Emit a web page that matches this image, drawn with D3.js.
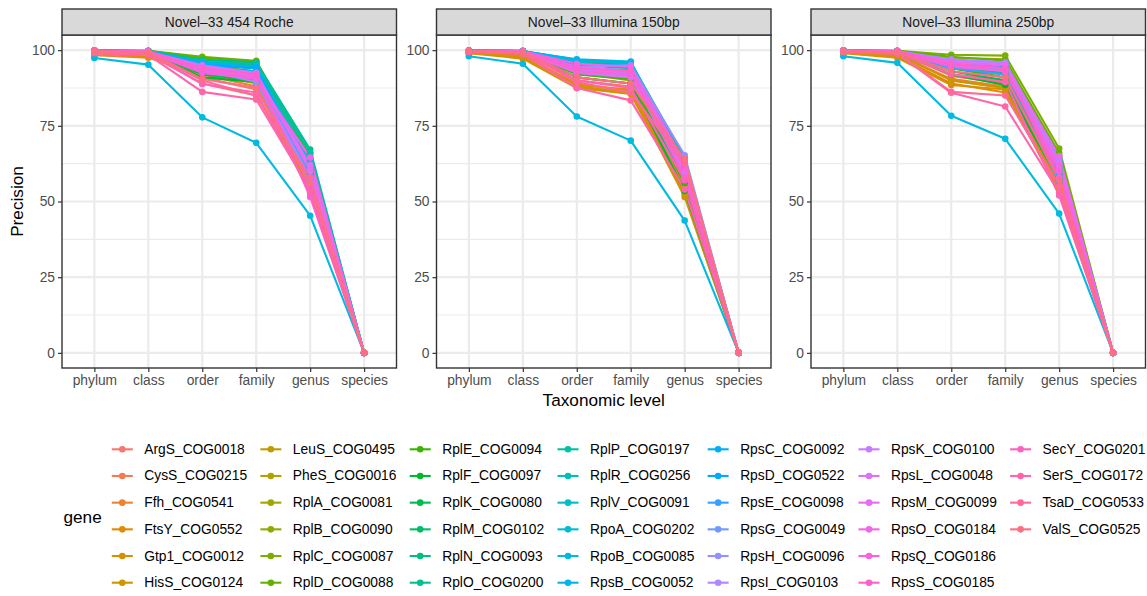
<!DOCTYPE html>
<html>
<head>
<meta charset="utf-8">
<script src="https://cdn.jsdelivr.net/npm/d3@7"></script>
<style>
  html, body { margin: 0; padding: 0; background: #fff; }
  svg text { font-family: "Liberation Sans", Arial, sans-serif; }
</style>
</head>
<body>
<svg id="chart" width="1147" height="596"></svg>
<script>
// Taxonomic levels along the x axis
const levels = ["phylum", "class", "order", "family", "genus", "species"];
const yTicks = [0, 25, 50, 75, 100];
const panelTitles = ["Novel\u201333 454 Roche", "Novel\u201333 Illumina 150bp", "Novel\u201333 Illumina 250bp"];

const genes = [
  "ArgS_COG0018", "CysS_COG0215", "Ffh_COG0541", "FtsY_COG0552", "Gtp1_COG0012", "HisS_COG0124",
  "LeuS_COG0495", "PheS_COG0016", "RplA_COG0081", "RplB_COG0090", "RplC_COG0087", "RplD_COG0088",
  "RplE_COG0094", "RplF_COG0097", "RplK_COG0080", "RplM_COG0102", "RplN_COG0093", "RplO_COG0200",
  "RplP_COG0197", "RplR_COG0256", "RplV_COG0091", "RpoA_COG0202", "RpoB_COG0085", "RpsB_COG0052",
  "RpsC_COG0092", "RpsD_COG0522", "RpsE_COG0098", "RpsG_COG0049", "RpsH_COG0096", "RpsI_COG0103",
  "RpsK_COG0100", "RpsL_COG0048", "RpsM_COG0099", "RpsO_COG0184", "RpsQ_COG0186", "RpsS_COG0185",
  "SecY_COG0201", "SerS_COG0172", "TsaD_COG0533", "ValS_COG0525"
];

// Precision (%) per gene: phylum, class, order, family, genus, species
const roche454 = [
  [99.5, 98.5, 89.0, 85.0, 55.0, 0], [99.7, 99.2, 91.0, 87.0, 57.0, 0], [98.3, 97.5, 92.0, 88.0, 56.0, 0],
  [99.0, 97.8, 93.0, 90.0, 53.0, 0], [99.5, 98.8, 94.0, 91.0, 54.0, 0], [99.6, 99.3, 92.5, 89.0, 52.5, 0],
  [99.8, 99.5, 95.0, 93.0, 58.0, 0], [99.7, 99.4, 96.0, 94.0, 60.0, 0], [99.8, 99.6, 96.5, 95.0, 62.0, 0],
  [99.9, 99.7, 97.0, 95.5, 63.0, 0], [99.9, 99.8, 97.8, 96.5, 64.0, 0], [99.9, 99.7, 97.5, 96.2, 65.0, 0],
  [99.8, 99.5, 95.5, 94.0, 61.0, 0], [99.6, 99.2, 91.0, 89.5, 59.0, 0], [99.7, 99.4, 92.0, 90.0, 60.0, 0],
  [99.8, 99.5, 94.5, 93.0, 63.0, 0], [99.9, 99.7, 96.0, 95.0, 66.0, 0], [99.9, 99.8, 96.8, 96.0, 67.2, 0],
  [99.8, 99.6, 96.0, 95.5, 66.0, 0], [99.7, 99.5, 95.0, 94.0, 64.0, 0], [99.8, 99.6, 95.5, 94.5, 62.0, 0],
  [99.6, 99.3, 94.0, 93.0, 63.0, 0], [97.4, 95.2, 77.8, 69.4, 45.3, 0], [99.7, 99.5, 96.0, 94.5, 59.5, 0],
  [99.8, 99.6, 95.5, 94.3, 61.0, 0], [99.7, 99.4, 95.0, 94.0, 60.0, 0], [99.6, 99.2, 94.0, 92.5, 58.0, 0],
  [99.5, 99.0, 93.0, 91.0, 57.0, 0], [99.6, 99.2, 93.5, 89.5, 56.0, 0], [99.7, 99.4, 94.0, 90.5, 58.0, 0],
  [99.8, 99.5, 95.0, 92.5, 60.0, 0], [99.7, 99.4, 94.5, 92.0, 62.0, 0], [99.8, 99.5, 93.5, 91.5, 61.0, 0],
  [99.6, 99.3, 92.5, 90.5, 64.5, 0], [99.7, 99.4, 93.0, 91.0, 55.0, 0], [99.8, 99.6, 94.0, 92.0, 51.5, 0],
  [99.5, 99.0, 88.8, 86.0, 53.0, 0], [99.0, 98.4, 86.2, 83.7, 54.0, 0], [99.3, 98.8, 90.0, 85.0, 58.0, 0],
  [99.6, 99.2, 90.5, 87.5, 56.0, 0]
];

const illumina150 = [
  [99.5, 99.0, 88.0, 86.0, 56.0, 0], [99.6, 99.3, 90.0, 88.0, 57.0, 0], [99.0, 98.0, 89.0, 86.5, 55.0, 0],
  [99.2, 97.5, 88.5, 87.0, 53.0, 0], [99.0, 97.2, 87.5, 85.5, 52.5, 0], [99.3, 98.3, 88.0, 86.0, 51.5, 0],
  [99.6, 99.2, 91.0, 89.0, 54.0, 0], [99.7, 99.4, 92.5, 90.0, 57.0, 0], [99.8, 99.6, 94.0, 92.0, 59.0, 0],
  [99.8, 99.6, 94.5, 93.0, 60.0, 0], [99.8, 99.7, 95.0, 94.0, 61.0, 0], [99.7, 99.5, 93.5, 92.0, 58.0, 0],
  [99.6, 99.3, 92.0, 90.5, 56.0, 0], [99.7, 99.4, 91.0, 89.0, 53.5, 0], [99.8, 99.5, 93.0, 91.5, 57.0, 0],
  [99.8, 99.6, 94.0, 93.0, 60.0, 0], [99.9, 99.7, 95.5, 95.5, 63.0, 0], [99.9, 99.8, 96.0, 96.0, 64.0, 0],
  [99.9, 99.7, 96.5, 95.8, 64.5, 0], [99.8, 99.6, 95.0, 94.5, 62.0, 0], [99.9, 99.7, 96.8, 95.5, 63.0, 0],
  [99.8, 99.6, 96.0, 94.0, 61.0, 0], [98.0, 95.5, 78.1, 70.1, 43.7, 0], [99.8, 99.6, 97.0, 96.2, 62.0, 0],
  [99.8, 99.5, 95.5, 95.0, 60.0, 0], [99.7, 99.5, 95.0, 94.5, 59.0, 0], [99.7, 99.4, 94.0, 93.5, 61.5, 0],
  [99.6, 99.3, 93.5, 92.5, 60.0, 0], [99.7, 99.4, 94.5, 95.0, 65.3, 0], [99.6, 99.2, 93.0, 91.5, 58.0, 0],
  [99.7, 99.4, 93.5, 92.5, 59.0, 0], [99.6, 99.3, 92.5, 91.0, 60.0, 0], [99.7, 99.5, 94.5, 93.0, 62.0, 0],
  [99.8, 99.6, 95.5, 94.5, 63.0, 0], [99.7, 99.4, 93.0, 92.0, 61.0, 0], [99.8, 99.6, 94.0, 93.0, 58.0, 0],
  [99.5, 99.0, 90.0, 87.5, 57.0, 0], [99.3, 98.8, 87.5, 83.4, 54.0, 0], [99.6, 99.2, 89.5, 86.0, 62.5, 0],
  [99.7, 99.4, 91.0, 89.0, 64.0, 0]
];

const illumina250 = [
  [99.6, 99.2, 90.0, 87.5, 55.0, 0], [99.7, 99.4, 91.5, 89.0, 57.0, 0], [99.2, 98.5, 90.5, 88.0, 56.0, 0],
  [99.3, 98.0, 89.0, 86.0, 54.0, 0], [99.0, 97.5, 88.5, 87.0, 53.0, 0], [99.4, 98.5, 90.0, 87.5, 55.0, 0],
  [99.6, 99.2, 92.0, 90.0, 57.0, 0], [99.7, 99.4, 94.0, 92.0, 59.0, 0], [99.8, 99.6, 96.0, 94.5, 62.0, 0],
  [99.9, 99.8, 97.5, 97.0, 65.0, 0], [99.9, 99.8, 98.5, 98.2, 67.5, 0], [99.9, 99.7, 97.8, 96.5, 66.0, 0],
  [99.7, 99.5, 94.0, 91.0, 60.0, 0], [99.6, 99.3, 92.0, 88.5, 57.0, 0], [99.7, 99.4, 93.0, 90.0, 58.0, 0],
  [99.8, 99.5, 94.5, 92.5, 60.0, 0], [99.8, 99.6, 95.0, 93.5, 61.0, 0], [99.9, 99.7, 95.5, 94.0, 63.0, 0],
  [99.8, 99.6, 95.0, 93.5, 62.0, 0], [99.8, 99.6, 96.0, 94.5, 61.0, 0], [99.9, 99.7, 96.5, 95.0, 63.0, 0],
  [99.8, 99.6, 96.0, 95.5, 64.0, 0], [98.0, 95.8, 78.3, 70.7, 46.0, 0], [99.8, 99.6, 96.5, 96.0, 60.0, 0],
  [99.8, 99.5, 95.5, 95.0, 58.0, 0], [99.8, 99.5, 95.0, 94.5, 59.0, 0], [99.7, 99.4, 94.0, 92.0, 56.5, 0],
  [99.7, 99.4, 95.0, 93.5, 60.0, 0], [99.8, 99.5, 96.0, 95.0, 62.0, 0], [99.8, 99.6, 97.0, 96.0, 64.0, 0],
  [99.8, 99.6, 96.5, 95.5, 63.0, 0], [99.7, 99.5, 95.5, 94.0, 61.0, 0], [99.8, 99.6, 96.0, 95.0, 65.0, 0],
  [99.7, 99.4, 94.5, 93.0, 62.0, 0], [99.7, 99.5, 95.0, 93.0, 60.0, 0], [99.8, 99.6, 95.5, 94.0, 58.0, 0],
  [99.6, 99.2, 92.0, 89.5, 52.0, 0], [99.3, 98.8, 85.9, 81.4, 53.0, 0], [99.5, 99.0, 86.2, 85.0, 55.0, 0],
  [99.6, 99.3, 93.0, 91.0, 57.0, 0]
];

const panelData = [roche454, illumina150, illumina250];

// Polar LUV (hcl) -> sRGB hex, D65 white point
function hclLuv(h, c, l) {
  const Xn = 95.047, Yn = 100.0, Zn = 108.883;
  const den = Xn + 15 * Yn + 3 * Zn;
  const un = 4 * Xn / den, vn = 9 * Yn / den;
  const hr = h * Math.PI / 180;
  const U = c * Math.cos(hr), V = c * Math.sin(hr);
  const Y = Yn * (l > 8 ? Math.pow((l + 16) / 116, 3) : l / 903.3);
  const up = U / (13 * l) + un, vp = V / (13 * l) + vn;
  const X = 9 * Y * up / (4 * vp);
  const Z = -X / 3 - 5 * Y + 3 * Y / vp;
  const x = X / 100, y = Y / 100, z = Z / 100;
  const lin = [
    3.240479 * x - 1.537150 * y - 0.498535 * z,
    -0.969256 * x + 1.875992 * y + 0.041556 * z,
    0.055648 * x - 0.204043 * y + 1.057311 * z
  ];
  const g = v => {
    v = v <= 0.0031308 ? 12.92 * v : 1.055 * Math.pow(v, 1 / 2.4) - 0.055;
    return Math.round(255 * Math.max(0, Math.min(1, v)));
  };
  return d3.rgb(g(lin[0]), g(lin[1]), g(lin[2])).formatHex();
}
const palette = genes.map((_, i) => hclLuv(15 + 360 * i / genes.length, 100, 65));
const color = d3.scaleOrdinal().domain(genes).range(palette);

const svg = d3.select("#chart");
const FS = 13.8;

// Panel geometry
const panelLeft = [62, 436.5, 811];
const panelW = 334.5;
const stripTop = 9, stripH = 26;
const pTop = stripTop + stripH, pBottom = 368;

const y = d3.scaleLinear().domain([-5, 105]).range([pBottom, pTop]);
const grid = "#EBEBEB", dark = "#333333", tickText = "#4D4D4D";

panelData.forEach((rows, p) => {
  const x0 = panelLeft[p];
  const x = d3.scalePoint().domain(levels).range([x0, x0 + panelW]).padding(0.6);
  const g = svg.append("g");

  g.append("rect").attr("x", x0).attr("y", pTop).attr("width", panelW).attr("height", pBottom - pTop)
    .attr("fill", "#fff");

  // minor grid
  const minor = d3.range(12.5, 100, 25);
  g.selectAll(".ymin").data(minor).join("line")
    .attr("x1", x0).attr("x2", x0 + panelW)
    .attr("y1", d => y(d)).attr("y2", d => y(d))
    .attr("stroke", grid).attr("stroke-width", 1.1);
  // major grid
  g.selectAll(".ymaj").data(yTicks).join("line")
    .attr("x1", x0).attr("x2", x0 + panelW)
    .attr("y1", d => y(d)).attr("y2", d => y(d))
    .attr("stroke", grid).attr("stroke-width", 2.2);
  g.selectAll(".xmaj").data(levels).join("line")
    .attr("x1", d => x(d)).attr("x2", d => x(d))
    .attr("y1", pTop).attr("y2", pBottom)
    .attr("stroke", grid).attr("stroke-width", 2.2);

  // series
  const line = d3.line().x((d, i) => x(levels[i])).y(d => y(d));
  const series = rows.map((vals, i) => ({ gene: genes[i], vals }));
  const sg = g.append("g");
  series.forEach(s => {
    sg.append("path").attr("d", line(s.vals)).attr("fill", "none")
      .attr("stroke", color(s.gene)).attr("stroke-width", 2.1).attr("stroke-linejoin", "round");
  });
  series.forEach(s => {
    sg.selectAll(null).data(s.vals).join("circle")
      .attr("cx", (d, i) => x(levels[i])).attr("cy", d => y(d)).attr("r", 3.3)
      .attr("fill", color(s.gene));
  });

  // panel border
  g.append("rect").attr("x", x0).attr("y", pTop).attr("width", panelW).attr("height", pBottom - pTop)
    .attr("fill", "none").attr("stroke", dark).attr("stroke-width", 1.4);

  // strip
  g.append("rect").attr("x", x0).attr("y", stripTop).attr("width", panelW).attr("height", stripH)
    .attr("fill", "#D9D9D9").attr("stroke", dark).attr("stroke-width", 1.4);
  g.append("text").attr("x", x0 + panelW / 2).attr("y", stripTop + stripH / 2)
    .attr("text-anchor", "middle").attr("dominant-baseline", "central")
    .attr("font-size", FS).attr("fill", "#1A1A1A").text(panelTitles[p]);

  // x axis
  const xa = g.append("g").attr("transform", `translate(0,${pBottom})`)
    .call(d3.axisBottom(x).tickSize(4).tickPadding(3));
  xa.select(".domain").remove();
  xa.selectAll("line").attr("stroke", dark).attr("stroke-width", 1.2);
  xa.selectAll("text").attr("font-size", FS).attr("fill", tickText)
    .attr("font-family", "Liberation Sans, Arial, sans-serif");

  // y axis
  const ya = g.append("g").attr("transform", `translate(${x0},0)`)
    .call(d3.axisLeft(y).tickValues(yTicks).tickSize(4).tickPadding(3));
  ya.select(".domain").remove();
  ya.selectAll("line").attr("stroke", dark).attr("stroke-width", 1.2);
  ya.selectAll("text").attr("font-size", FS).attr("fill", tickText)
    .attr("font-family", "Liberation Sans, Arial, sans-serif");
});

// axis titles
svg.append("text").attr("transform", `translate(17,${(pTop + pBottom) / 2}) rotate(-90)`)
  .attr("text-anchor", "middle").attr("dominant-baseline", "central")
  .attr("font-size", 17.2).attr("fill", "#000").text("Precision");
svg.append("text").attr("x", (panelLeft[0] + panelLeft[2] + panelW) / 2).attr("y", 400)
  .attr("text-anchor", "middle").attr("dominant-baseline", "central")
  .attr("font-size", 17.2).attr("fill", "#000").text("Taxonomic level");

// legend
const leg = svg.append("g");
leg.append("text").attr("x", 63.5).attr("y", 517.3).attr("dominant-baseline", "central")
  .attr("font-size", 17.2).attr("fill", "#000").text("gene");

const nRows = 6, rowY0 = 449.3, rowStep = 26.68;
const nCols = Math.ceil(genes.length / nRows);
let colX = 122.3;
for (let c = 0; c < nCols; c++) {
  const items = genes.slice(c * nRows, c * nRows + nRows);
  let maxW = 0;
  items.forEach((gname, r) => {
    const cy = rowY0 + r * rowStep;
    leg.append("line").attr("x1", colX - 10.5).attr("x2", colX + 10.5).attr("y1", cy).attr("y2", cy)
      .attr("stroke", color(gname)).attr("stroke-width", 2.1);
    leg.append("circle").attr("cx", colX).attr("cy", cy).attr("r", 3.3).attr("fill", color(gname));
    const t = leg.append("text").attr("x", colX + 22).attr("y", cy).attr("dominant-baseline", "central")
      .attr("font-size", FS).attr("fill", "#000").text(gname);
    maxW = Math.max(maxW, t.node().getComputedTextLength());
  });
  colX = colX + 22 + maxW + 23.8;
}
</script>
</body>
</html>
